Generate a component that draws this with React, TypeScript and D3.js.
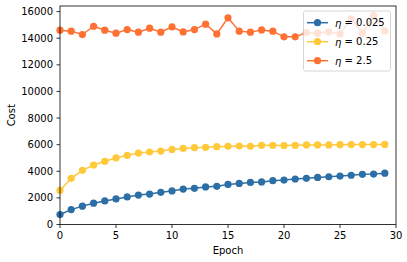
import React from "react";
import * as d3 from "d3";

const epochs = d3.range(0, 30);
const blue = [750, 1120, 1380, 1600, 1770, 1920, 2070, 2210, 2290, 2420, 2520, 2660, 2720, 2820, 2870, 3010, 3090, 3160, 3200, 3290, 3340, 3420, 3470, 3540, 3590, 3640, 3700, 3770, 3790, 3860];
const yellow = [2560, 3470, 4070, 4470, 4750, 5000, 5200, 5370, 5450, 5520, 5640, 5720, 5770, 5800, 5850, 5880, 5900, 5880, 5950, 5950, 5930, 5950, 5980, 5980, 5980, 6000, 6010, 6010, 6010, 6020];
const orange = [14600, 14530, 14275, 14900, 14600, 14380, 14650, 14450, 14750, 14450, 14850, 14475, 14650, 15055, 14325, 15530, 14530, 14450, 14625, 14530, 14100, 14100, 14420, 14380, 14475, 14325, 15450, 14380, 15700, 14550];
const seriesLabels = ["0.025", "0.25", "2.5"];
const colors = ["#2c6ea6", "#ffc93a", "#ff7033"];
const xTicks = [0, 5, 10, 15, 20, 25, 30];
const yTicks = [0, 2000, 4000, 6000, 8000, 10000, 12000, 14000, 16000];

export default function App() {
  const W = 407, H = 262;
  const left = 60, right = 396, top = 6, bottom = 224.5;
  const x = d3.scaleLinear().domain([0, 30]).range([left, right]);
  const y = d3.scaleLinear().domain([0, 16420]).range([bottom, top]);
  const data = [blue, yellow, orange];
  const line = d3.line<number>().x((_, i) => x(epochs[i])).y((d) => y(d));
  const font = "DejaVu Sans, sans-serif";
  const lg = { x: 303.5, y: 11, w: 87, h: 60 };
  return (
    <svg width={W} height={H} style={{ position: "absolute", left: 0, top: 0 }} fontFamily={font}>
      <rect x={0} y={0} width={W} height={H} fill="#fff" />
      {data.map((s, k) => (
        <g key={k}>
          <path d={line(s) || ""} fill="none" stroke={colors[k]} strokeWidth={1.5} />
          {s.map((v, i) => (
            <circle key={i} cx={x(epochs[i])} cy={y(v)} r={3.6} fill={colors[k]} />
          ))}
        </g>
      ))}
      <rect x={left} y={top} width={right - left} height={bottom - top} fill="none" stroke="#000" strokeWidth={0.8} />
      {xTicks.map((t) => (
        <g key={t}>
          <line x1={x(t)} x2={x(t)} y1={bottom} y2={bottom + 3.5} stroke="#000" strokeWidth={0.8} />
          <text x={x(t)} y={bottom + 7} fontSize={10} textAnchor="middle" dominantBaseline="hanging" fill="#000">{t}</text>
        </g>
      ))}
      {yTicks.map((t) => (
        <g key={t}>
          <line x1={left - 3.5} x2={left} y1={y(t)} y2={y(t)} stroke="#000" strokeWidth={0.8} />
          <text x={left - 7} y={y(t)} fontSize={10} textAnchor="end" dominantBaseline="central" fill="#000">{t}</text>
        </g>
      ))}
      <text x={(left + right) / 2} y={254} fontSize={10} textAnchor="middle" fill="#000">Epoch</text>
      <text transform={`translate(15,${(top + bottom) / 2}) rotate(-90)`} fontSize={10} textAnchor="middle" fill="#000">Cost</text>
      <rect x={lg.x} y={lg.y} width={lg.w} height={lg.h} rx={2} fill="#fff" fillOpacity={0.8} stroke="#ccc" strokeWidth={0.8} />
      {seriesLabels.map((lab, k) => {
        const cy = 22.7 + k * 19;
        return (
          <g key={k}>
            <line x1={307} x2={328} y1={cy} y2={cy} stroke={colors[k]} strokeWidth={1.5} />
            <circle cx={317.5} cy={cy} r={3.6} fill={colors[k]} />
            <text x={335} y={cy} fontSize={10} dominantBaseline="central" fill="#000">
              <tspan fontStyle="italic">η</tspan> = {lab}
            </text>
          </g>
        );
      })}
    </svg>
  );
}
